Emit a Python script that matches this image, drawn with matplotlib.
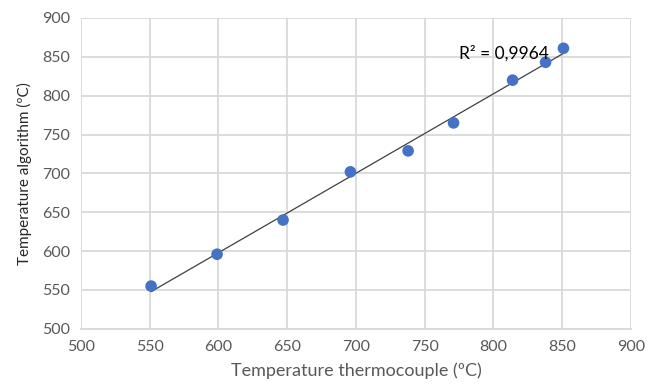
import numpy as np
import matplotlib.pyplot as plt

# readings taken from the chart
tempThermocouple = [551, 599, 647, 696, 738, 771, 814, 838, 851]
tempAlgorithm = [555, 596, 640, 702, 729, 765, 820, 843, 861]
r2Label = 'R² = 0,9964'

xTicks = [500, 550, 600, 650, 700, 750, 800, 850, 900]
yTicks = [500, 550, 600, 650, 700, 750, 800, 850, 900]

plt.rcParams['font.family'] = ['Lato', 'DejaVu Sans']

fig = plt.figure(figsize=(6.64, 3.91), dpi=100)
ax = fig.add_axes([0.122, 0.159, 0.828, 0.795])

x = np.array(tempThermocouple)
y = np.array(tempAlgorithm)
slope, intercept = np.polyfit(x, y, 1)
xEval = np.array([x.min(), x.max()])
ax.plot(xEval, slope * xEval + intercept, color='#404040', linewidth=0.9, zorder=2)

ax.scatter(x, y, s=70, color='#4472C4', zorder=3, edgecolors='none')

ax.text(775, 855, r2Label, fontsize=12.5, color='#000000', va='center', ha='left', zorder=4)

ax.set_xlim(500, 900)
ax.set_ylim(500, 900)
ax.set_xticks(xTicks)
ax.set_yticks(yTicks)
ax.grid(True, color='#d9d9d9', linewidth=1.3)
ax.set_axisbelow(True)
for side in ['top', 'right', 'left']:
    ax.spines[side].set_visible(False)
ax.spines['bottom'].set_color('#d9d9d9')
ax.spines['bottom'].set_linewidth(1.3)
ax.tick_params(length=0, labelsize=11.5, labelcolor='#595959', pad=8)

ax.set_xlabel('Temperature thermocouple (ºC)', fontsize=13, color='#595959', labelpad=6)
ax.set_ylabel('Temperature algorithm (ºC)', fontsize=11, color='#262626', labelpad=7)

fig.savefig('out.png', dpi=100)
